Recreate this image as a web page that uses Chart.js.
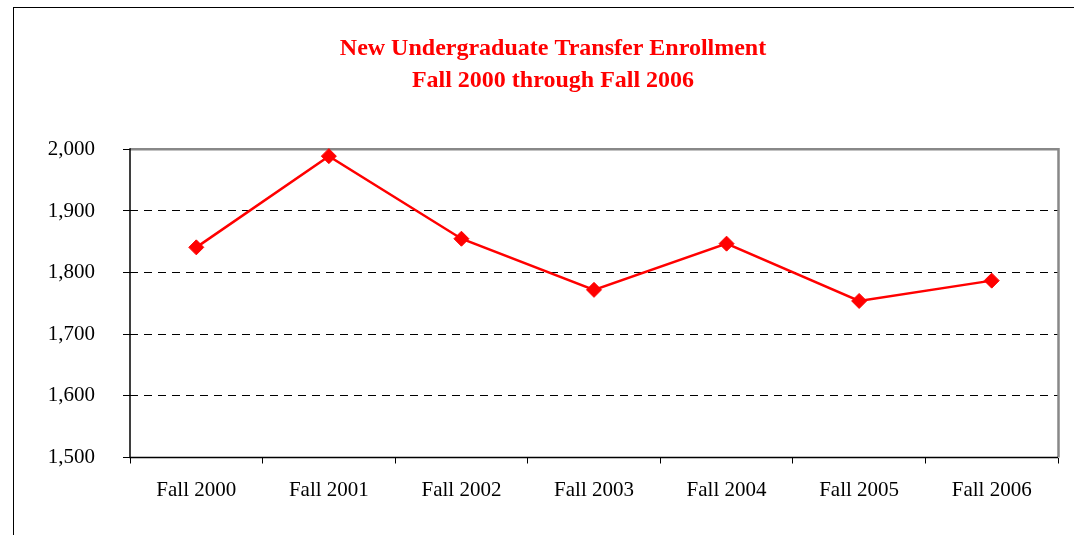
<!DOCTYPE html>
<html>
<head>
<meta charset="utf-8">
<script src="https://cdn.jsdelivr.net/npm/chart.js@4"></script>
<style>
  html, body { margin: 0; padding: 0; background: #fff; overflow: hidden; }
  #frame { position: absolute; left: 13px; top: 7px; width: 1120px; height: 600px; border-left: 1px solid #000; border-top: 1px solid #000; }
  #wrap { position: absolute; left: 0; top: 0; width: 1078px; height: 527px; }
</style>
</head>
<body>
<div id="frame"><div id="wrap"><canvas id="c"></canvas></div></div>
<script>
const categories = ['Fall 2000', 'Fall 2001', 'Fall 2002', 'Fall 2003', 'Fall 2004', 'Fall 2005', 'Fall 2006'];
const enrollment = [1841, 1989, 1855, 1772, 1847, 1754, 1787];
const titleLines = ['New Undergraduate Transfer Enrollment', 'Fall 2000 through Fall 2006'];
const yMin = 1500, yMax = 2000, yStep = 100;

const areaBorder = {
  id: 'areaBorder',
  beforeDatasetsDraw(chart) {
    const a = chart.chartArea, ctx = chart.ctx;
    ctx.save();
    ctx.setLineDash([]);
    ctx.strokeStyle = '#888888';
    ctx.lineWidth = 2.5;
    ctx.beginPath();
    ctx.moveTo(a.left, a.top);
    ctx.lineTo(a.right + 0.5, a.top);
    ctx.lineTo(a.right + 0.5, a.bottom);
    ctx.stroke();
    ctx.strokeStyle = '#000';
    ctx.lineWidth = 1.5;
    ctx.beginPath();
    ctx.moveTo(a.left, a.top - 1);
    ctx.lineTo(a.left, a.bottom);
    ctx.lineTo(a.right, a.bottom);
    ctx.stroke();
    ctx.restore();
  }
};

new Chart(document.getElementById('c'), {
  type: 'line',
  data: {
    labels: categories,
    datasets: [{
      data: enrollment,
      borderColor: '#ff0000',
      backgroundColor: '#ff0000',
      borderWidth: 2.5,
      pointStyle: 'rectRot',
      pointRadius: 7.5,
      pointHoverRadius: 7.5,
      pointBorderWidth: 1,
      pointBorderColor: '#ff0000',
      pointBackgroundColor: '#ff0000',
      tension: 0,
      clip: false
    }]
  },
  options: {
    responsive: true,
    maintainAspectRatio: false,
    animation: false,
    layout: { padding: { left: 34, right: 34, top: 0, bottom: 0 } },
    plugins: {
      legend: { display: false },
      tooltip: { enabled: false },
      title: {
        display: true,
        text: titleLines,
        color: '#ff0000',
        font: { family: 'Liberation Serif', size: 24, weight: 'bold', lineHeight: 1.32 },
        padding: { top: 25, bottom: 53 }
      }
    },
    scales: {
      x: {
        offset: true,
        afterFit(scale) { scale.height = 77.5; },
        border: { display: false },
        grid: { offset: true, drawOnChartArea: false, drawTicks: true, tickLength: 6, tickColor: '#000', tickWidth: 1 },
        ticks: { color: '#000', padding: 14, maxRotation: 0, font: { family: 'Liberation Serif', size: 21 } }
      },
      y: {
        min: yMin,
        max: yMax,
        afterFit(scale) { scale.width = 82; },
        border: { display: false, dash: [8, 6] },
        grid: {
          color: (ctx) => (ctx.tick && (ctx.tick.value === yMin || ctx.tick.value === yMax)) ? 'rgba(0,0,0,0)' : '#000',
          lineWidth: 1,
          tickBorderDash: [],
          tickColor: '#000',
          tickLength: 7,
          tickWidth: 1
        },
        ticks: {
          stepSize: yStep,
          color: '#000',
          padding: 28,
          font: { family: 'Liberation Serif', size: 21 },
          callback: (v) => Number(v).toLocaleString('en-US')
        }
      }
    }
  },
  plugins: [areaBorder]
});
</script>
</body>
</html>
